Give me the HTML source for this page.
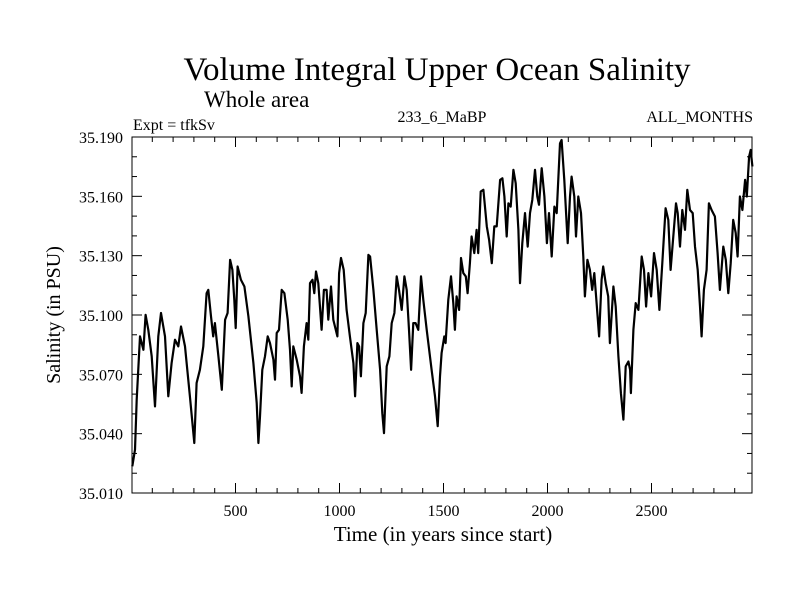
<!DOCTYPE html>
<html><head><meta charset="utf-8"><style>
body{margin:0;background:#fff;}
svg text{font-family:"Liberation Serif",serif;fill:#000;}
</style></head><body>
<svg id="chart" width="800" height="600" xmlns="http://www.w3.org/2000/svg">
<rect width="800" height="600" fill="#fff"/>
<text x="437" y="80" font-size="33" text-anchor="middle">Volume Integral Upper Ocean Salinity</text>
<text x="204" y="107" font-size="23">Whole area</text>
<text x="133" y="130" font-size="16">Expt = tfkSv</text>
<text x="442" y="122" font-size="16" text-anchor="middle">233_6_MaBP</text>
<text x="753" y="122" font-size="16" text-anchor="end">ALL_MONTHS</text>
<text x="443" y="541" font-size="21" text-anchor="middle">Time (in years since start)</text>
<text transform="translate(60,315) rotate(-90)" font-size="20" text-anchor="middle">Salinity (in PSU)</text>
<g id="axes"></g>
<rect x="132" y="137" width="620" height="356" fill="none" stroke="#000" stroke-width="1"/>
</svg>
<script>
const years=[4,17,25,41,57,68,81,97,113,129,142,161,177,193,209,225,238,257,281,302,313,329,345,361,369,382,393,401,418,434,450,462,474,485,494,501,510,526,543,562,586,602,610,618,629,642,655,666,682,690,698,709,722,735,751,762,770,778,794,810,818,829,842,850,858,870,879,887,898,914,925,938,946,959,970,990,998,1007,1020,1034,1050,1067,1075,1086,1094,1103,1115,1126,1139,1147,1163,1179,1195,1206,1214,1227,1240,1251,1264,1275,1286,1299,1312,1323,1334,1344,1355,1366,1379,1392,1403,1419,1443,1459,1472,1483,1491,1504,1510,1523,1536,1547,1555,1563,1575,1584,1595,1607,1616,1627,1635,1648,1659,1667,1679,1692,1708,1719,1732,1744,1756,1772,1783,1793,1804,1812,1823,1836,1847,1860,1868,1879,1892,1905,1916,1927,1940,1951,1959,1972,1985,1997,2007,2020,2033,2044,2060,2068,2081,2097,2108,2116,2129,2137,2148,2161,2172,2180,2192,2204,2215,2225,2236,2248,2260,2268,2280,2292,2300,2317,2328,2341,2353,2365,2376,2389,2397,2401,2413,2424,2437,2453,2464,2474,2485,2498,2512,2525,2538,2552,2568,2581,2592,2605,2618,2626,2637,2648,2661,2672,2685,2698,2709,2722,2733,2741,2752,2765,2776,2789,2805,2818,2829,2845,2857,2869,2881,2893,2905,2914,2925,2937,2950,2958,2969,2977,2985];
const salinity=[35.0235,35.0319,35.0572,35.0892,35.0824,35.1001,35.0925,35.0791,35.0538,35.0892,35.1010,35.0892,35.0589,35.0757,35.0875,35.0841,35.0942,35.0841,35.0589,35.0353,35.0656,35.0723,35.0841,35.1110,35.1127,35.0993,35.0892,35.0959,35.0791,35.0622,35.0976,35.1010,35.1279,35.1228,35.1077,35.0934,35.1245,35.1178,35.1144,35.0993,35.0757,35.0555,35.0353,35.0488,35.0723,35.0791,35.0892,35.0858,35.0774,35.0673,35.0909,35.0925,35.1127,35.1110,35.0976,35.0824,35.0639,35.0841,35.0774,35.0690,35.0606,35.0841,35.0959,35.0875,35.1161,35.1178,35.1110,35.1220,35.1161,35.0925,35.1127,35.1127,35.0976,35.1144,35.0976,35.0892,35.1211,35.1288,35.1228,35.1026,35.0892,35.0757,35.0589,35.0858,35.0841,35.0690,35.0959,35.1010,35.1304,35.1296,35.1127,35.0925,35.0723,35.0504,35.0403,35.0740,35.0791,35.0959,35.1010,35.1195,35.1127,35.1026,35.1195,35.1127,35.0925,35.0723,35.0959,35.0959,35.0925,35.1195,35.1077,35.0925,35.0723,35.0589,35.0438,35.0690,35.0808,35.0892,35.0858,35.1077,35.1195,35.1060,35.0925,35.1094,35.1026,35.1288,35.1212,35.1195,35.1110,35.1262,35.1397,35.1313,35.1431,35.1313,35.1624,35.1633,35.1448,35.1380,35.1262,35.1448,35.1448,35.1683,35.1691,35.1599,35.1397,35.1565,35.1548,35.1734,35.1666,35.1431,35.1161,35.1363,35.1515,35.1346,35.1515,35.1582,35.1734,35.1599,35.1557,35.1742,35.1599,35.1363,35.1515,35.1296,35.1548,35.1515,35.1868,35.1885,35.1683,35.1363,35.1599,35.1700,35.1599,35.1397,35.1599,35.1515,35.1296,35.1094,35.1279,35.1228,35.1127,35.1212,35.1060,35.0892,35.1178,35.1245,35.1161,35.1094,35.0858,35.1144,35.1043,35.0791,35.0605,35.0471,35.0740,35.0765,35.0723,35.0605,35.0925,35.1060,35.1026,35.1296,35.1228,35.1043,35.1212,35.1094,35.1313,35.1228,35.1026,35.1262,35.1540,35.1481,35.1228,35.1397,35.1565,35.1515,35.1346,35.1531,35.1431,35.1633,35.1531,35.1515,35.1346,35.1228,35.1043,35.0892,35.1127,35.1228,35.1565,35.1531,35.1498,35.1313,35.1127,35.1346,35.1279,35.1110,35.1262,35.1481,35.1414,35.1296,35.1599,35.1531,35.1683,35.1599,35.1801,35.1835,35.1751];
const xTickLabels=[500,1000,1500,2000,2500];
const yTickLabels=["35.010","35.040","35.070","35.100","35.130","35.160","35.190"];

const L=132,R=752,T=137,B=493,X0=131.5,XPX=0.208,YMIN=35.010,YMAX=35.190;
function xs(v){return X0+v*XPX;}
function ys(v){return B-(v-YMIN)/(YMAX-YMIN)*(B-T);}
const NS="http://www.w3.org/2000/svg";
const g=document.getElementById('axes');
function mk(tag,attrs){const e=document.createElementNS(NS,tag);for(const k in attrs)e.setAttribute(k,attrs[k]);g.appendChild(e);return e;}

for(let yr=100;yr<2985;yr+=100){
  const x=xs(yr),len=yr%500===0?10:5;
  const t1=mk('line',{x1:x,x2:x,y1:B,y2:B-len,stroke:'#000'});
  
  
  const t2=mk('line',{x1:x,x2:x,y1:T,y2:T+len,stroke:'#000'});
  
  
}
xTickLabels.forEach(v=>{
  const t=mk('text',{x:xs(v),y:516,'font-size':16,'text-anchor':'middle'});
  t.textContent=v;
  
  
});
for(let i=1;i<18;i++){
  const y=ys(YMIN+i*0.01),len=i%3===0?10:5;
  const t1=mk('line',{x1:L,x2:L+len,y1:y,y2:y,stroke:'#000'});
  
  
  const t2=mk('line',{x1:R,x2:R-len,y1:y,y2:y,stroke:'#000'});
  
  
}
yTickLabels.forEach(s=>{
  const t=mk('text',{x:123,y:ys(parseFloat(s))+6,'font-size':16,'text-anchor':'end'});
  t.textContent=s;
  
  
});
const d=years.map((yr,i)=>(i?'L':'M')+xs(yr).toFixed(1)+','+ys(salinity[i]).toFixed(1)).join('');
const p=mk('path',{d:d,fill:'none',stroke:'#000','stroke-width':2.2,'stroke-linejoin':'round'});


</script>
</body></html>
